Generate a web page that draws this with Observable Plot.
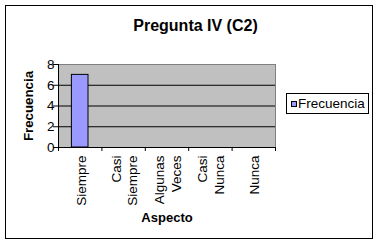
<!DOCTYPE html>
<html><head><meta charset="utf-8">
<script src="https://cdn.jsdelivr.net/npm/d3@7"></script>
<script src="https://cdn.jsdelivr.net/npm/@observablehq/plot@0.6"></script>
<style>
body{margin:0;background:#fff;}
#wrap{position:relative;width:379px;height:245px;font-family:"Liberation Sans",Arial,sans-serif;color:#000;}
#wrap svg{position:absolute;left:0;top:0;}
#border{position:absolute;left:5px;top:5px;width:368px;height:234px;border:1px solid #000;box-sizing:border-box;pointer-events:none;}
#title{position:absolute;left:6px;top:17px;width:379px;text-align:center;font-weight:bold;font-size:16px;line-height:18px;}
#legend{position:absolute;left:286px;top:93px;width:83px;height:21px;border:1px solid #000;box-sizing:border-box;background:#fff;}
#legend .sw{position:absolute;left:4px;top:7px;width:4px;height:4px;border:1px solid #000;background:#9999ff;}
#legend .lb{position:absolute;left:11px;top:2px;font-size:13.5px;line-height:15px;}
</style>
</head><body>
<div id="wrap">
  <div id="border"></div>
  <div id="title"></div>
  <div id="legend"><div class="sw"></div><div class="lb"></div></div>
</div>
<script>
const title = "Pregunta IV (C2)";
const xLabel = "Aspecto";
const yLabel = "Frecuencia";
const seriesName = "Frecuencia";
const categories = ["Siempre", "Casi Siempre", "Algunas Veces", "Casi Nunca", "Nunca"];
const tickLabels = ["Siempre", "Casi\nSiempre", "Algunas\nVeces", "Casi\nNunca", "Nunca"];
const frecuencia = [7, 0, 0, 0, 0];
const yTicks = [0, 2, 4, 6, 8];

const rows = categories.map((c, i) => ({cat: c, label: tickLabels[i], i, value: frecuencia[i]}));
const bounds = d3.range(categories.length + 1);
const yMax = d3.max(yTicks);

document.getElementById("title").textContent = title;
document.querySelector("#legend .lb").textContent = seriesName;

const chart = Plot.plot({
  width: 379, height: 245,
  marginLeft: 58, marginRight: 104, marginTop: 64, marginBottom: 98,
  style: {fontFamily: "Liberation Sans, Arial, sans-serif", fontSize: "13px", background: "transparent", color: "#000"},
  x: {domain: [0, categories.length], axis: null},
  y: {domain: [0, yMax], axis: null},
  marks: [
    Plot.frame({fill: "#c0c0c0", stroke: "#808080"}),
    Plot.ruleY(yTicks.filter(t => t > 0 && t < yMax), {stroke: "#000"}),
    Plot.rect(rows.filter(d => d.value > 0), {x1: "i", x2: d => d.i + 1, y1: () => 0, y2: "value", fill: "#9999ff", stroke: "#000", insetLeft: 13.4, insetRight: 13.4}),
    Plot.ruleX([0], {stroke: "#000"}),
    Plot.ruleY([0], {stroke: "#000"}),
    Plot.axisY({ticks: yTicks, tickSize: 5, tickPadding: -1, tickFormat: d => String(d), fontSize: 13.5, label: null}),
    Plot.axisX({ticks: bounds, tickSize: 4, tickFormat: () => "", label: null}),
    Plot.text(rows, {x: d => d.i + 0.5, frameAnchor: "bottom", dy: 8, text: "label", rotate: -90, textAnchor: "end", lineAnchor: "middle", lineHeight: 1.24, fontSize: 13.5}),
    Plot.text([yLabel], {frameAnchor: "left", dx: -30, rotate: -90, textAnchor: "middle", lineAnchor: "middle", fontWeight: "bold", fontSize: 13.3}),
    Plot.text([xLabel], {frameAnchor: "bottom", dy: 70.6, textAnchor: "middle", lineAnchor: "middle", fontWeight: "bold", fontSize: 13})
  ]
});
document.getElementById("wrap").insertBefore(chart, document.getElementById("border"));
</script>
</body></html>
